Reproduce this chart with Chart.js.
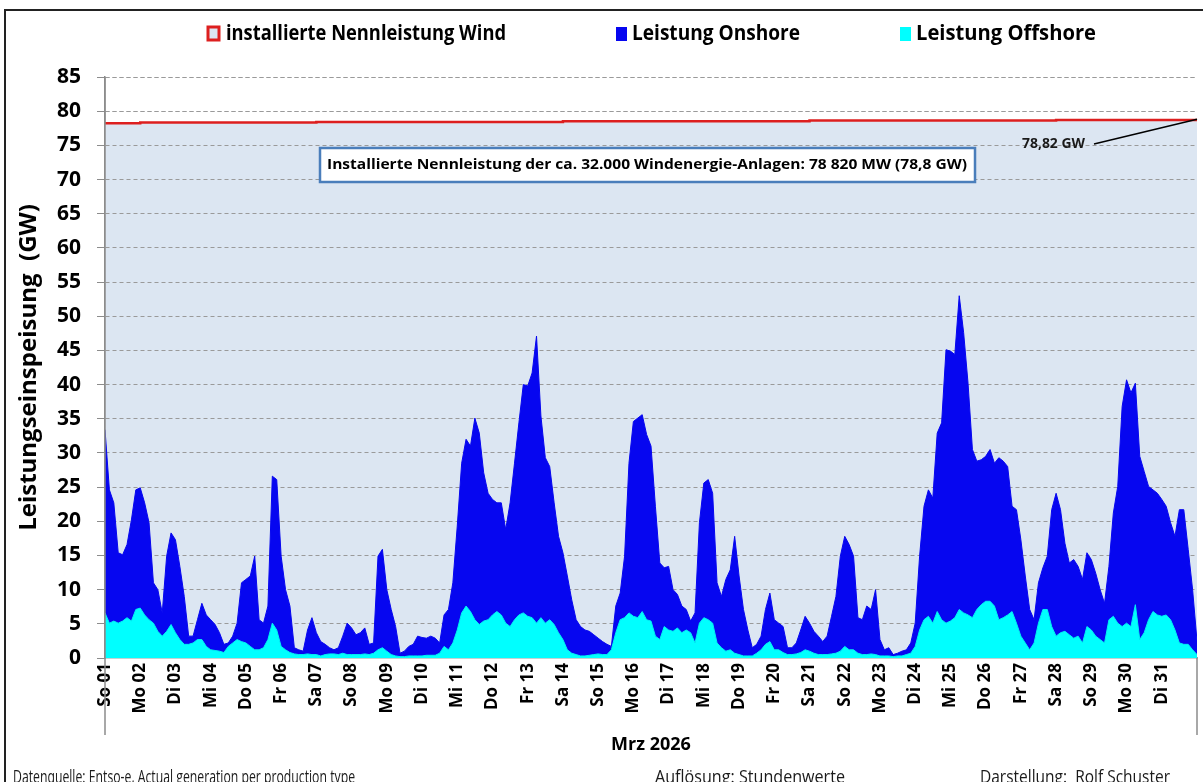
<!DOCTYPE html>
<html lang="de">
<head>
<meta charset="utf-8">
<title>Windstrom Einspeisung März 2026</title>
<script src="https://cdn.jsdelivr.net/npm/chart.js@4.4.1/dist/chart.umd.min.js"></script>
<style>
    html, body { margin: 0; padding: 0; background: #fff; }
    #wrap { width: 1203px; height: 782px; overflow: hidden; }
</style>
</head>
<body>
<div id="wrap"><canvas id="windChart" width="1203" height="782"></canvas></div>
<script>
// --- DATEN ---
const tage = ['So 01', 'Mo 02', 'Di 03', 'Mi 04', 'Do 05', 'Fr 06', 'Sa 07', 'So 08', 'Mo 09', 'Di 10',
    'Mi 11', 'Do 12', 'Fr 13', 'Sa 14', 'So 15', 'Mo 16', 'Di 17', 'Mi 18', 'Do 19', 'Fr 20',
    'Sa 21', 'So 22', 'Mo 23', 'Di 24', 'Mi 25', 'Do 26', 'Fr 27', 'Sa 28', 'So 29', 'Mo 30', 'Di 31'];

// Werte alle 3 Stunden (GW)
const stundenSchritt = 3;

const offshore = [
    6.6, 5.1, 5.4, 5.1, 5.4, 5.9, 5.4, 7.1,
    7.3, 6.3, 5.6, 5.1, 3.9, 3.2, 3.9, 4.9,
    3.7, 2.7, 2.0, 2.0, 2.2, 2.7, 2.7, 1.7,
    1.2, 1.1, 1.0, 0.8, 1.7, 2.2, 2.7, 2.4,
    2.2, 1.7, 1.2, 1.2, 1.5, 2.7, 5.1, 4.1,
    1.7, 1.2, 0.8, 0.6, 0.5, 0.5, 0.6, 0.5,
    0.5, 0.3, 0.5, 0.6, 0.6, 0.5, 0.7, 0.5,
    0.5, 0.5, 0.5, 0.6, 0.5, 0.7, 1.2, 1.5,
    1.0, 0.5, 0.3, 0.2, 0.2, 0.3, 0.3, 0.3,
    0.3, 0.4, 0.4, 0.4, 0.7, 1.7, 1.2, 2.2,
    4.1, 6.6, 7.6, 6.8, 5.6, 4.9, 5.4, 5.6,
    6.3, 6.8, 6.3, 5.1, 4.6, 5.6, 6.3, 6.6,
    6.1, 5.9, 5.1, 5.9, 5.1, 5.6, 4.9, 3.7,
    2.7, 1.2, 0.7, 0.5, 0.3, 0.3, 0.4, 0.5,
    0.6, 0.5, 0.5, 1.2, 3.7, 5.6, 5.9, 6.6,
    6.1, 5.9, 6.8, 5.6, 5.4, 3.2, 2.7, 4.6,
    4.1, 3.9, 4.4, 3.7, 4.1, 3.7, 2.2, 5.1,
    5.9, 5.6, 5.1, 2.2, 1.5, 1.0, 1.2, 0.7,
    0.5, 0.3, 0.3, 0.3, 0.7, 1.2, 2.0, 2.4,
    1.2, 1.2, 0.8, 0.5, 0.5, 0.6, 0.8, 1.2,
    1.0, 0.7, 0.5, 0.5, 0.5, 0.6, 0.7, 1.0,
    1.7, 1.2, 1.2, 0.7, 0.5, 0.5, 0.6, 0.5,
    0.3, 0.3, 0.3, 0.2, 0.3, 0.3, 0.5, 0.7,
    1.7, 4.1, 5.6, 6.1, 5.1, 6.8, 5.6, 5.1,
    5.4, 5.9, 7.1, 6.6, 6.3, 5.9, 7.1, 7.8,
    8.3, 8.3, 7.6, 5.6, 5.9, 6.3, 6.8, 5.1,
    3.2, 2.2, 1.2, 2.2, 5.1, 7.1, 7.1, 4.6,
    3.2, 3.7, 3.9, 3.4, 2.9, 3.2, 2.2, 4.6,
    4.1, 3.2, 2.7, 2.2, 5.6, 6.1, 5.1, 4.6,
    5.1, 4.6, 7.8, 2.7, 3.7, 5.6, 6.8, 6.3,
    6.1, 6.3, 5.6, 4.1, 2.2, 2.0, 2.0, 1.2,
    0.5
];

const onshore = [
    26.8, 19.5, 17.3, 10.3, 9.7, 10.7, 14.8, 17.5,
    17.6, 16.4, 14.2, 5.9, 6.1, 3.4, 11.0, 13.4,
    13.6, 10.7, 7.0, 1.2, 1.0, 2.9, 5.3, 4.6,
    4.4, 3.8, 2.7, 1.2, 0.5, 1.0, 2.4, 8.6,
    9.3, 10.3, 13.7, 4.4, 3.6, 4.9, 21.5, 22.0,
    13.2, 8.8, 6.8, 0.9, 0.7, 0.5, 3.5, 5.4,
    3.2, 2.1, 1.5, 0.9, 0.6, 1.0, 2.5, 4.6,
    3.9, 2.9, 3.2, 3.8, 1.5, 1.5, 13.7, 14.4,
    9.0, 6.6, 4.3, 0.5, 0.8, 1.4, 1.7, 2.9,
    2.7, 2.5, 2.8, 2.5, 1.5, 4.6, 5.9, 8.8,
    15.2, 21.9, 24.4, 24.2, 29.5, 28.0, 21.7, 18.5,
    16.9, 15.9, 16.4, 13.7, 18.1, 22.9, 28.1, 33.4,
    33.7, 35.8, 42.0, 29.5, 24.2, 22.4, 17.8, 14.1,
    12.7, 10.8, 7.8, 5.1, 4.3, 3.8, 3.5, 2.9,
    2.3, 1.9, 1.5, 0.5, 3.9, 3.9, 9.0, 21.9,
    28.5, 29.2, 28.8, 27.1, 25.6, 19.0, 11.2, 8.6,
    9.3, 6.1, 4.9, 3.9, 3.0, 1.7, 4.4, 14.7,
    19.7, 20.5, 19.0, 8.8, 7.5, 10.5, 11.7, 17.1,
    11.5, 6.8, 3.8, 1.2, 1.3, 2.0, 5.1, 7.1,
    4.4, 3.9, 3.8, 1.0, 1.0, 1.6, 3.3, 4.9,
    4.1, 3.2, 2.7, 1.9, 2.7, 5.5, 8.3, 13.9,
    16.1, 15.4, 13.7, 5.2, 5.1, 7.1, 6.5, 9.5,
    2.4, 0.9, 1.2, 0.3, 0.4, 0.7, 0.7, 1.5,
    3.4, 10.8, 16.6, 18.5, 18.3, 26.1, 28.8, 40.0,
    39.5, 38.5, 45.9, 41.0, 33.9, 24.6, 21.7, 21.2,
    21.2, 22.2, 20.9, 23.7, 22.9, 21.7, 15.4, 16.6,
    14.1, 9.8, 5.9, 3.4, 5.9, 6.1, 7.8, 17.1,
    20.9, 18.0, 12.9, 10.5, 11.5, 10.2, 9.3, 10.8,
    10.3, 9.2, 7.3, 5.8, 7.8, 15.1, 20.0, 32.2,
    35.6, 34.2, 32.4, 26.8, 23.6, 19.5, 17.8, 17.8,
    17.1, 15.9, 14.2, 13.7, 19.5, 19.7, 13.9, 8.8,
    2.0
];

// installierte Nennleistung (GW), Stufen über den Monat
const nennStunden = [0, 24, 144, 312, 480, 648, 744];
const nennWerte = [78.25, 78.33, 78.42, 78.52, 78.62, 78.72, 78.82];

const serienNamen = ['installierte Nennleistung Wind', 'Leistung Onshore', 'Leistung Offshore'];

// --- HILFSFUNKTIONEN ---
const SCHRIFT = '"Open Sans", "Liberation Sans", sans-serif';

// Text auf eine Zielbreite stauchen (Calibri-ähnlich schmal)
function textGestaucht(ctx, text, x, y, groesse, breite, gewicht, ausrichtung) {
    ctx.save();
    ctx.font = `${gewicht} ${groesse}px ${SCHRIFT}`;
    const w = ctx.measureText(text).width;
    const sx = Math.min(1.3, breite / w);
    ctx.translate(x, y);
    ctx.scale(sx, 1);
    ctx.textAlign = ausrichtung || 'left';
    ctx.fillText(text, 0, 0);
    ctx.restore();
}

const punkte = (werte) => werte.map((v, i) => ({ x: i * stundenSchritt, y: v }));

// Gitterlinien über der hellen Nennleistungsfläche, aber unter den Windflächen
const gitterPlugin = {
    id: 'gitterUeberFlaeche',
    afterDatasetDraw(chart, args) {
        if (args.index === 0) {
            chart.scales.y.drawGrid(chart.chartArea);
        }
    }
};

const dekoPlugin = {
    id: 'deko',
    beforeDraw(chart) {
        const ctx = chart.ctx;
        ctx.save();
        ctx.fillStyle = '#ffffff';
        ctx.fillRect(0, 0, chart.width, chart.height);
        ctx.restore();
    },
    afterDraw(chart) {
        const ctx = chart.ctx;
        const area = chart.chartArea;
        const xs = chart.scales.x;
        const ys = chart.scales.y;
        ctx.save();

        // Achslinien nach unten verlängert
        ctx.strokeStyle = '#8c8c8c';
        ctx.lineWidth = 1.5;
        ctx.beginPath();
        ctx.moveTo(area.left, area.top);
        ctx.lineTo(area.left, 735);
        ctx.moveTo(area.right, area.bottom);
        ctx.lineTo(area.right, 735);
        ctx.stroke();

        // Legende
        const ds = chart.data.datasets;
        const legende = [
            { idx: 0, box: 206, text: 226, breite: 280 },
            { idx: 2, box: 616, text: 632, breite: 168 },
            { idx: 1, box: 900, text: 916, breite: 180 }
        ];
        ctx.textBaseline = 'middle';
        legende.forEach(item => {
            const d = ds[item.idx];
            if (item.idx === 0) {
                ctx.fillStyle = d.backgroundColor;
                ctx.fillRect(item.box + 2, 27, 11, 13);
                ctx.strokeStyle = d.borderColor;
                ctx.lineWidth = 3;
                ctx.strokeRect(item.box + 2, 27, 11, 13);
            } else {
                ctx.fillStyle = d.backgroundColor;
                ctx.fillRect(item.box, 27, 11, 14);
            }
            ctx.fillStyle = '#000';
            textGestaucht(ctx, d.label, item.text, 34, 21, item.breite, 'bold');
        });

        // Hinweisbox
        ctx.fillStyle = '#ffffff';
        ctx.fillRect(320, 148, 655, 34);
        ctx.strokeStyle = '#4a7ebb';
        ctx.lineWidth = 2.5;
        ctx.strokeRect(320, 148, 655, 34);
        ctx.fillStyle = '#000';
        textGestaucht(ctx, 'Installierte Nennleistung der ca. 32.000 Windenergie-Anlagen: 78 820 MW (78,8 GW)',
            647, 165, 15, 640, 'bold', 'center');

        // Endwert mit Hinweislinie
        const endX = xs.getPixelForValue(nennStunden[nennStunden.length - 1]);
        const endY = ys.getPixelForValue(nennWerte[nennWerte.length - 1]);
        ctx.fillStyle = '#1a1a1a';
        textGestaucht(ctx, '78,82 GW', 1022, 144, 15, 63, 'bold');
        ctx.strokeStyle = '#000';
        ctx.lineWidth = 1.5;
        ctx.beginPath();
        ctx.moveTo(1094, 144);
        ctx.lineTo(endX, endY);
        ctx.stroke();

        // Fußzeile
        ctx.textBaseline = 'alphabetic';
        ctx.fillStyle = '#1a1a1a';
        textGestaucht(ctx, 'Datenquelle: Entso-e, Actual generation per production type', 13, 783, 18, 342, 'normal');
        textGestaucht(ctx, 'Auflösung: Stundenwerte', 655, 783, 18, 190, 'normal');
        textGestaucht(ctx, 'Darstellung:  Rolf Schuster', 980, 783, 18, 190, 'normal');

        // Rahmen
        ctx.strokeStyle = '#222';
        ctx.lineWidth = 2;
        ctx.strokeRect(5, 10, 1210, 800);
        ctx.restore();
    }
};

// --- DIAGRAMM ---
const ctx = document.getElementById('windChart').getContext('2d');

const windChart = new Chart(ctx, {
    type: 'line',
    data: {
        datasets: [
            {
                label: serienNamen[0],
                data: nennStunden.map((h, i) => ({ x: h, y: nennWerte[i] })),
                stack: 'nenn',
                order: 3,
                stepped: true,
                fill: 'origin',
                backgroundColor: '#dce6f2',
                borderColor: '#dd1f1f',
                borderWidth: 2.5,
                pointRadius: 0
            },
            {
                label: serienNamen[2],
                data: punkte(offshore),
                stack: 'wind',
                order: 1,
                fill: 'origin',
                backgroundColor: '#00ffff',
                borderColor: '#00f2f2',
                borderWidth: 1,
                pointRadius: 0,
                tension: 0
            },
            {
                label: serienNamen[1],
                data: punkte(onshore),
                stack: 'wind',
                order: 2,
                fill: 'origin',
                backgroundColor: '#0606f0',
                borderColor: '#0606f0',
                borderWidth: 1,
                pointRadius: 0,
                tension: 0
            }
        ]
    },
    options: {
        responsive: false,
        devicePixelRatio: 1,
        animation: false,
        events: [],
        layout: { padding: { left: 0, top: 77, right: 6, bottom: 0 } },
        scales: {
            x: {
                type: 'linear',
                min: 0,
                max: 744,
                z: 1,
                afterBuildTicks: (axis) => {
                    axis.ticks = tage.map((_, i) => ({ value: i * 24 }));
                },
                afterFit: (axis) => { axis.height = 124; },
                grid: { display: false, drawTicks: false },
                border: { display: true, color: '#86a6a6', width: 1.5 },
                ticks: {
                    autoSkip: false,
                    maxRotation: 90,
                    minRotation: 90,
                    padding: 5,
                    color: '#000',
                    font: { family: SCHRIFT, weight: 'bold', size: 17 },
                    callback: (v) => tage[Math.round(v / 24)] ?? ''
                },
                title: {
                    display: true,
                    text: 'Mrz 2026',
                    color: '#000',
                    font: { family: SCHRIFT, weight: 'bold', size: 18 },
                    padding: { top: 0, bottom: 26 }
                }
            },
            y: {
                stacked: true,
                min: 0,
                max: 85,
                afterFit: (axis) => { axis.width = 105; },
                ticks: {
                    stepSize: 5,
                    padding: 16,
                    color: '#000',
                    font: { family: SCHRIFT, weight: 'bold', size: 21 }
                },
                grid: {
                    color: (c) => (c.tick && c.tick.value === 0 ? 'rgba(0,0,0,0)' : '#9a9a9a'),
                    lineWidth: 1,
                    tickLength: 8,
                    tickColor: '#8c8c8c',
                    tickBorderDash: [20, 0]
                },
                border: { display: true, color: '#8c8c8c', width: 1.5, dash: [4, 3] },
                title: {
                    display: true,
                    text: 'Leistungseinspeisung  (GW)',
                    color: '#000',
                    font: { family: SCHRIFT, weight: 'bold', size: 24 },
                    padding: { top: 15, bottom: 0 }
                }
            }
        },
        plugins: {
            legend: { display: false },
            tooltip: { enabled: false },
            filler: { propagate: false }
        }
    },
    plugins: [gitterPlugin, dekoPlugin]
});
</script>
</body>
</html>
